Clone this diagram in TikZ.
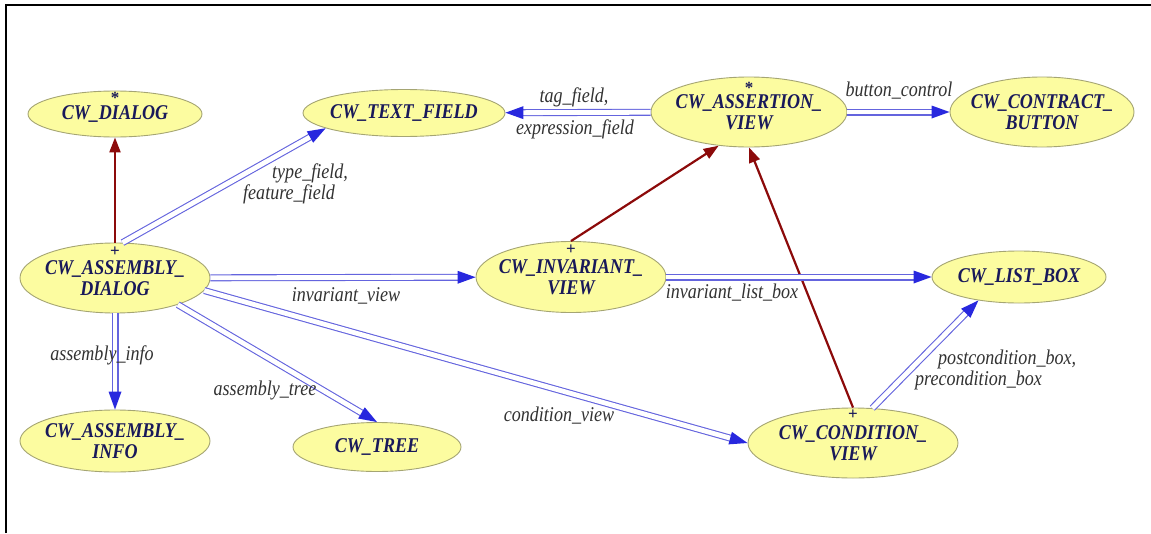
\documentclass[tikz,border=0pt]{standalone}
\usepackage{fontspec}
\setmainfont{Liberation Serif}
\newfontfamily\cwserif[FakeStretch=0.86]{Liberation Serif}
\usetikzlibrary{arrows.meta,decorations.markings,shapes.geometric}

\definecolor{nodefill}{RGB}{252,252,160}
\definecolor{nodeedge}{RGB}{165,165,115}
\definecolor{nodetext}{RGB}{25,25,90}
\definecolor{lbltext}{RGB}{50,50,50}
\definecolor{dblline}{RGB}{100,100,222}
\definecolor{dbltip}{RGB}{40,40,222}
\definecolor{arrred}{RGB}{140,10,10}

\begin{document}
\begin{tikzpicture}[x=1pt,y=-1pt,
  cls/.style 2 args={ellipse, draw=nodeedge, line width=0.9pt, fill=nodefill,
    inner sep=0pt, minimum width=#1pt, minimum height=#2pt},
  cwtext/.style={font=\cwserif\bfseries\itshape\fontsize{21}{21}\selectfont,
    text=nodetext, align=center, inner sep=0pt},
  % the marks sit on their baseline (zero-height box), shifted up from the centre
  cwmark/.style={font=\bfseries\fontsize{17}{17}\selectfont, text=nodetext,
    inner sep=0pt, yshift=#1pt},
  lbl/.style={font=\cwserif\itshape\fontsize{21}{21}\selectfont, text=lbltext, inner sep=0pt},
  dbl/.style={draw=dblline, line width=1.1pt, double=white, double distance=4.8pt,
    shorten >=13pt,
    postaction={decorate, decoration={markings, mark=at position 1 with
      {\fill[dbltip, shorten >=0pt] (0pt,0pt) -- (-18pt,6.5pt) -- (-18pt,-6.5pt) -- cycle;}}}},
  redarr/.style={draw=arrred, line width=2.2pt, -{Triangle[length=15pt,width=11pt]}}
]
% canvas and frame
\fill[white] (0,0) rectangle (1151,533);
\useasboundingbox (0,0) rectangle (1151,533);
\draw[line width=2.2pt] (6,533) -- (6,5) -- (1151,5);

% classes
\node[cls={174}{46}, label={[cwtext]center:CW\_DIALOG},
  label={[cwmark=10.5]center:\smash{*}}] (dlg) at (115,114) {};
\node[cls={202}{47}, label={[cwtext]center:CW\_TEXT\_FIELD}] (tf) at (404,113) {};
\node[cls={196}{70}, label={[cwtext]center:CW\_ASSERTION\_\\VIEW},
  label={[cwmark=18.5]center:\smash{*}}] (asr) at (749,112) {};
\node[cls={184}{70}, label={[cwtext]center:CW\_CONTRACT\_\\BUTTON}] (cb) at (1042,112) {};
\node[cls={190}{70}, label={[cwtext]center:CW\_ASSEMBLY\_\\DIALOG},
  label={[cwmark=21.5]center:\smash{+}}] (asm) at (115,278) {};
\node[cls={190}{71}, label={[cwtext]center:CW\_INVARIANT\_\\VIEW},
  label={[cwmark=22.5]center:\smash{+}}] (inv) at (571,277) {};
\node[cls={174}{52}, label={[cwtext]center:CW\_LIST\_BOX}] (lb) at (1019,277) {};
\node[cls={190}{62}, label={[cwtext]center:CW\_ASSEMBLY\_\\INFO}] (info) at (115,441) {};
\node[cls={168}{49}, label={[cwtext]center:CW\_TREE}] (tree) at (377,447) {};
\node[cls={210}{70}, label={[cwtext]center:CW\_CONDITION\_\\VIEW},
  label={[cwmark=23.5]center:\smash{+}}] (cond) at (853,443) {};

% inheritance
\draw[redarr] (asm) -- (dlg);
\draw[redarr] (inv.north) -- (asr.228);
\draw[redarr] (cond.north) -- (asr.south);

% client links
\draw[dbl] (asm.78) -- (tf.191);
\draw[dbl] (asr) -- (tf);
\draw[dbl] (asr) -- (cb);
\draw[dbl] (asm) -- (inv);
\draw[dbl] (inv) -- (lb);
\draw[dbl] (cond.61) -- (lb.210);
\draw[dbl] (asm) -- (info);
\draw[dbl] (asm.337) -- (tree.north);
\draw[dbl] (asm.352) -- (cond.west);

% link labels
\node[lbl, align=left, anchor=west] (l-type) at (243,184)
  {\hspace*{29pt}type\_field,\\feature\_field};
\node[lbl] (l-tag) at (574,97) {tag\_field,};
\node[lbl] (l-expr) at (575,129) {expression\_field};
\node[lbl] (l-button) at (899,91) {button\_control};
\node[lbl] (l-invview) at (346,296) {invariant\_view};
\node[lbl] (l-invlist) at (732,293) {invariant\_list\_box};
\node[lbl, align=left, anchor=west] (l-post) at (915,370)
  {\hspace*{23pt}postcondition\_box,\\precondition\_box};
\node[lbl] (l-info) at (102,355) {assembly\_info};
\node[lbl] (l-tree) at (265,390) {assembly\_tree};
\node[lbl] (l-cond) at (559,416) {condition\_view};
\end{tikzpicture}
\end{document}
